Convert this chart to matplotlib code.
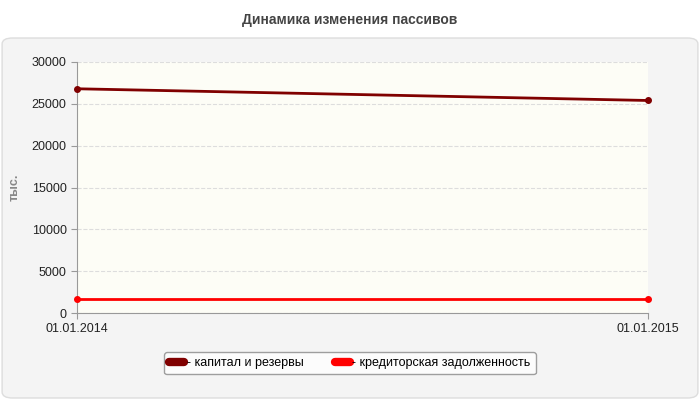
import matplotlib
matplotlib.use("Agg")
import matplotlib.pyplot as plt
from matplotlib.patches import FancyBboxPatch

plt.rcParams['font.family'] = ['Liberation Sans', 'DejaVu Sans']

dates = ["01.01.2014", "01.01.2015"]
capital = [26800, 25400]
payables = [1700, 1700]
yticks = [0, 5000, 10000, 15000, 20000, 25000, 30000]

fig = plt.figure(figsize=(7, 4), dpi=100)
fig.patch.set_facecolor("white")
panel = FancyBboxPatch((0.003, 0.005), 0.994, 0.9, boxstyle="round,pad=0,rounding_size=0.015",
                       transform=fig.transFigure, facecolor="#f4f4f4", edgecolor="#dddddd", lw=1,
                       zorder=-10)
fig.patches.append(panel)
fig.text(0.5, 0.95, "Динамика изменения пассивов", ha="center", va="center",
         fontsize=10, fontweight="bold", color="#444444")

ax = fig.add_axes([77/700, 1-313/400, (648-77)/700, (313-62)/400])
ax.set_zorder(5)
ax.set_facecolor("#fdfdf6")
x = [0, 1]
ax.plot(x, capital, color="#800000", lw=2, marker="o", ms=4, zorder=3, clip_on=False)
ax.plot(x, payables, color="#ff0000", lw=2, marker="o", ms=4, zorder=3, clip_on=False)
ax.set_xlim(0, 1)
ax.set_ylim(0, 30000)
ax.set_yticks(yticks)
ax.set_yticklabels([str(v) for v in yticks], fontsize=9, color="#222222")
ax.set_xticks(x)
ax.set_xticklabels(dates, fontsize=9, color="#222222")
ax.grid(axis="y", color="#dddddd", ls="--", lw=0.8)
for s in ["top", "right"]:
    ax.spines[s].set_visible(False)
ax.spines["left"].set_color("#999999")
ax.spines["bottom"].set_color("#999999")
ax.tick_params(colors="#999999", labelcolor="#222222", length=4)
ax.set_ylabel("тыс.", fontsize=9, fontweight="bold", color="#888888", labelpad=8)

leg = fig.legend(handles=[plt.Line2D([], [], color="#800000", lw=6, solid_capstyle="round"),
                          plt.Line2D([], [], color="#ff0000", lw=6, solid_capstyle="round")],
                 labels=["- капитал и резервы", "- кредиторская задолженность"],
                 loc="center", bbox_to_anchor=(0.5, 1-363/400), ncol=2, fontsize=9,
                 frameon=True, handlelength=1.2, handletextpad=0.2, columnspacing=2.5,
                 fancybox=True)
leg.get_frame().set_edgecolor("#888888")
leg.get_frame().set_facecolor("white")
fig.savefig("out.png", dpi=100)
